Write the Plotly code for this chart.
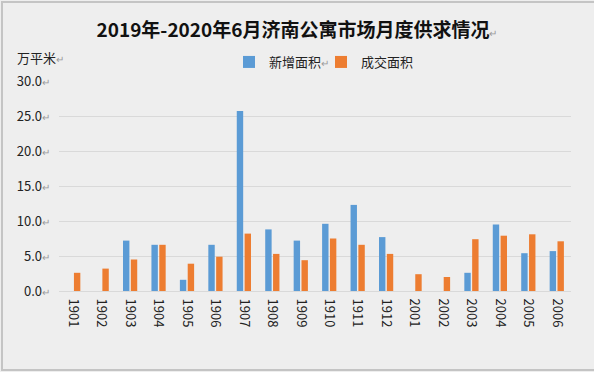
import plotly.graph_objects as go

months = ["1901", "1902", "1903", "1904", "1905", "1906", "1907", "1908", "1909",
          "1910", "1911", "1912", "2001", "2002", "2003", "2004", "2005", "2006"]
new_supply = [None, None, 7.2, 6.6, 1.6, 6.6, 25.7, 8.8, 7.2,
              9.6, 12.3, 7.7, None, None, 2.6, 9.5, 5.4, 5.7]
deals = [2.6, 3.2, 4.5, 6.6, 3.9, 4.9, 8.2, 5.3, 4.4,
         7.5, 6.6, 5.3, 2.4, 2.0, 7.4, 7.9, 8.1, 7.1]
y_ticks = [0, 5, 10, 15, 20, 25, 30]

RET = "<span style='color:#9a9a9a;font-size:10px'>↵</span>"
FONT = "Noto Sans CJK SC, Noto Sans, sans-serif"
H = 372.0
PH = 210.0
PW = 512.0

fig = go.Figure()
fig.add_trace(go.Bar(x=months, y=new_supply, name="新增面积" + RET,
                     marker=dict(color="#5B9BD5", line=dict(width=0))))
fig.add_trace(go.Bar(x=months, y=deals, name="成交面积" + RET,
                     marker=dict(color="#ED7D31", line=dict(width=0))))

fig.update_layout(
    width=594, height=372,
    margin=dict(l=59, r=23, t=81, b=81, autoexpand=False),
    paper_bgcolor="#eeeeee",
    plot_bgcolor="rgba(0,0,0,0)",
    font=dict(family=FONT, size=13, color="#222222"),
    barmode="group", bargap=0.45, bargroupgap=0.18,
    showlegend=True,
    legend=dict(orientation="h", x=(229 - 59) / PW, xanchor="left", y=1 + (81 - 62) / PH,
                yanchor="middle", font=dict(size=13, color="#222222"),
                itemwidth=30, entrywidth=47, entrywidthmode="pixels",
                bgcolor="rgba(0,0,0,0)", traceorder="normal"),
    title=dict(text="<b>2019年-2020年6月济南公寓市场月度供求情况</b>" + RET,
               x=0.5, xanchor="center", y=1 - 30 / H, yref="container", yanchor="middle",
               font=dict(size=19, color="#111111", family=FONT)),
    xaxis=dict(type="category", tickangle=90, showgrid=False, ticks="",
               showline=True, linecolor="#d9d9d9", linewidth=1, automargin=False,
               tickfont=dict(size=13, color="#222222"), ticklabelstandoff=4),
    yaxis=dict(range=[0, 30], tickvals=y_ticks, automargin=False,
               ticktext=[f"{v:.1f}" + RET for v in y_ticks],
               showgrid=True, gridcolor="#d9d9d9", gridwidth=1, zeroline=False,
               ticks="", tickfont=dict(size=13, color="#222222"), ticklabelstandoff=8),
    shapes=[dict(type="rect", xref="paper", yref="paper", x0=-57 / PW, x1=1.06,
                 y0=-79 / PH, y1=1 + 79 / PH, line=dict(color="#c4c4c4", width=2),
                 fillcolor="rgba(0,0,0,0)", layer="below")],
    annotations=[dict(text="万平米" + RET, xref="paper", yref="paper", x=-44 / PW,
                      xanchor="left", y=1 + (81 - 58) / PH, yanchor="middle", showarrow=False,
                      font=dict(size=13, color="#222222"))],
)

fig.write_html(
    "out.html",
    config={"displayModeBar": False},
    post_script="document.body.style.margin='0';document.body.style.background='#eeeeee';"
                "document.body.style.overflow='hidden';",
)
